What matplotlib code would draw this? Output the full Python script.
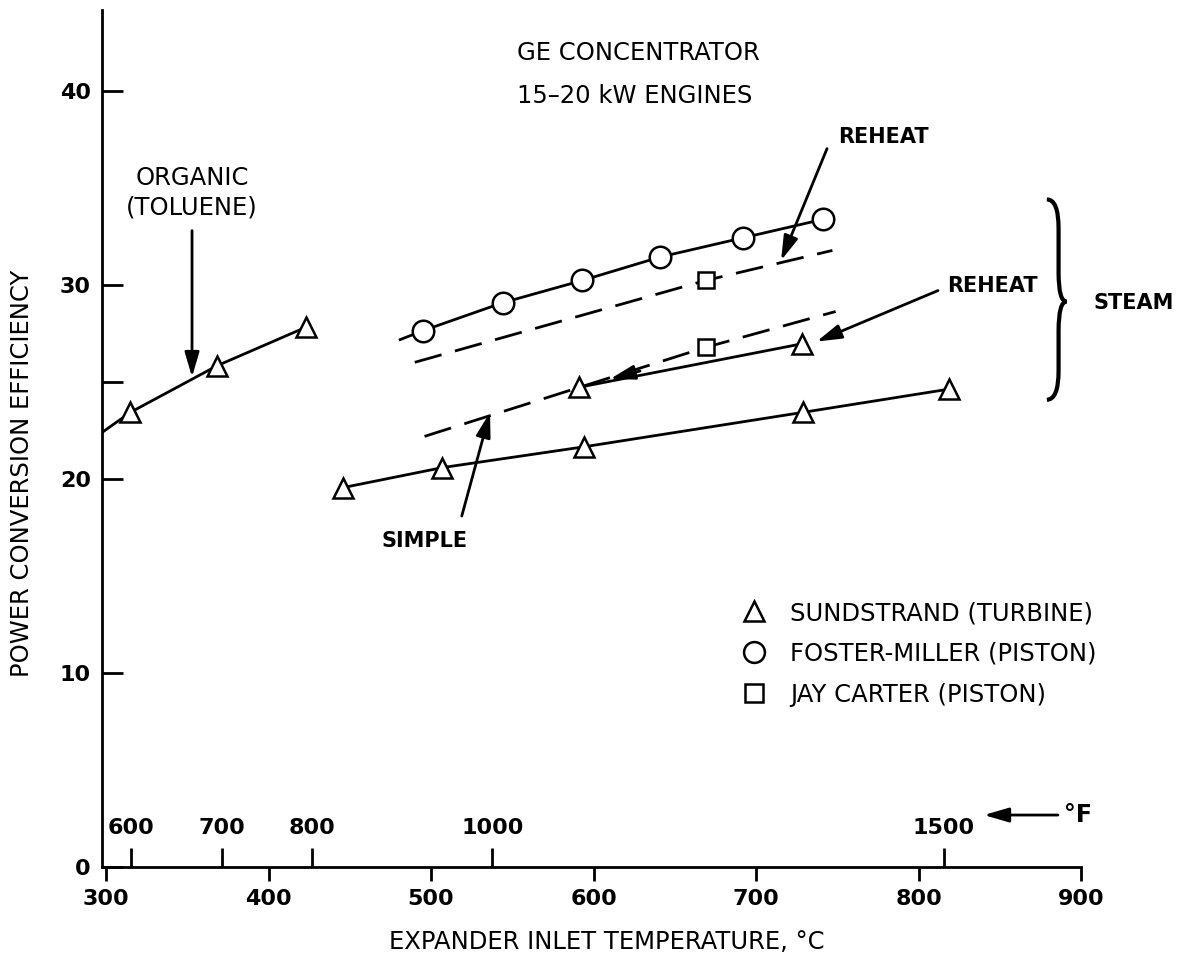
import matplotlib
matplotlib.use("Agg")
import matplotlib.pyplot as plt
from matplotlib.lines import Line2D
from matplotlib.path import Path
from matplotlib.patches import PathPatch

# expander inlet temperature (deg C) vs power conversion efficiency (%)
# organic (toluene) - sundstrand turbine
organic_t = [315, 368.5, 423]
organic_eff = [23.45, 25.86, 27.84]
organic_line_t = [297.5, 315, 368.5, 423]
organic_line_eff = [22.41, 23.45, 25.86, 27.84]

# steam - sundstrand turbine, simple and reheat
simple_t = [446, 507, 594, 729, 819]
simple_eff = [19.57, 20.60, 21.67, 23.45, 24.65]
reheat_t = [591, 728]
reheat_eff = [24.74, 26.98]

# steam - foster-miller piston
fm_t = [495, 544, 593, 641, 692, 741]
fm_eff = [27.66, 29.10, 30.25, 31.46, 32.45, 33.40]
fm_line_t = [481] + fm_t
fm_line_eff = [27.20] + fm_eff

# steam - jay carter piston (points and dashed curves)
jc_t = [669, 669]
jc_eff = [30.25, 26.80]
jc_reheat_t = [490, 669, 747]
jc_reheat_eff = [26.03, 30.25, 31.80]
jc_simple_t = [496, 669, 749]
jc_simple_eff = [22.21, 26.80, 28.65]

x_ticks = [300, 400, 500, 600, 700, 800, 900]
y_ticks = [0, 10, 20, 25, 30, 40]
y_tick_labels = ["0", "10", "20", "", "30", "40"]
f_ticks = [600, 700, 800, 1000, 1500]

legend_labels = ["SUNDSTRAND (TURBINE)", "FOSTER-MILLER (PISTON)", "JAY CARTER (PISTON)"]

plt.rcParams["font.family"] = ["DejaVu Sans"]
FS = 17.5     # plain text
FS_B = 15     # bold labels
FS_N = 16     # tick numbers

W, H = 1183, 971
fig = plt.figure(figsize=(W / 100, H / 100), dpi=100)
ax = fig.add_axes([102 / W, 104 / H, (1081 - 102) / W, (867 - 10) / H])
ax.set_xlim(297.5, 900)
ax.set_ylim(0, 44.2)

for s in ["top", "right"]:
    ax.spines[s].set_visible(False)
ax.spines["left"].set_linewidth(2)
ax.spines["bottom"].set_linewidth(2)

ax.set_xticks(x_ticks)
ax.set_yticks(y_ticks)
ax.set_yticklabels(y_tick_labels)
ax.tick_params(axis="x", direction="out", length=10, width=2, pad=6, labelsize=FS_N)
ax.tick_params(axis="y", direction="in", length=15, width=2, pad=8, labelsize=FS_N)
for lab in ax.get_xticklabels() + ax.get_yticklabels():
    lab.set_fontweight("bold")

# fahrenheit scale along the bottom axis
def c2f(c):
    return c * 9 / 5 + 32

def f2c(f):
    return (f - 32) * 5 / 9

sec = ax.secondary_xaxis(0, functions=(c2f, f2c))
sec.set_alignment("top")
sec.spines["top"].set_visible(False)
sec.set_xticks(f_ticks)
sec.tick_params(axis="x", direction="out", length=14, width=2, pad=7, labelsize=FS_N)
for lab in sec.get_xticklabels():
    lab.set_fontweight("bold")

line_kw = dict(color="black", lw=2, zorder=2)
mk_kw = dict(ls="none", mfc="white", mec="black", mew=1.8, zorder=3)

ax.plot(organic_line_t, organic_line_eff, **line_kw)
ax.plot(organic_t, organic_eff, marker="^", ms=14, **mk_kw)

ax.plot(simple_t, simple_eff, **line_kw)
ax.plot(simple_t, simple_eff, marker="^", ms=14, **mk_kw)
ax.plot(reheat_t, reheat_eff, **line_kw)
ax.plot(reheat_t, reheat_eff, marker="^", ms=14, **mk_kw)

ax.plot(fm_line_t, fm_line_eff, **line_kw)
ax.plot(fm_t, fm_eff, marker="o", ms=15.5, **mk_kw)

ax.plot(jc_reheat_t, jc_reheat_eff, color="black", lw=2, dashes=(10, 5), zorder=2)
ax.plot(jc_simple_t, jc_simple_eff, color="black", lw=2, dashes=(10, 5), zorder=2)
ax.plot(jc_t, jc_eff, marker="s", ms=12, **mk_kw)

# annotations
arrow = dict(arrowstyle="-|>,head_length=0.75,head_width=0.22", lw=2, color="black",
             mutation_scale=20, shrinkA=0, shrinkB=0)
ax.annotate("", xy=(352.9, 25.27), xytext=(352.9, 32.82), arrowprops=arrow)
ax.text(352.9, 35.55, "ORGANIC", ha="center", va="center", fontsize=FS)
ax.text(352.9, 34.0, "(TOLUENE)", ha="center", va="center", fontsize=FS)

ax.annotate("", xy=(715.4, 31.28), xytext=(743.7, 37.05), arrowprops=arrow)
ax.text(778.2, 37.67, "REHEAT", ha="center", va="center", fontsize=FS_B, fontweight="bold")

ax.annotate("", xy=(737.3, 27.10), xytext=(812, 29.73), arrowprops=arrow)
ax.text(845.6, 29.96, "REHEAT", ha="center", va="center", fontsize=FS_B, fontweight="bold")

ax.annotate("", xy=(536.3, 23.45), xytext=(518.9, 18.10), arrowprops=arrow)
ax.text(496.3, 16.81, "SIMPLE", ha="center", va="center", fontsize=FS_B, fontweight="bold")

ax.annotate("", xy=(610.2, 25.17), xytext=(628.6, 25.58), arrowprops=arrow)

ax.text(552.9, 41.96, "GE CONCENTRATOR", ha="left", va="center", fontsize=FS)
ax.text(552.9, 39.79, "15\u201320 kW ENGINES", ha="left", va="center", fontsize=FS)

# brace for the steam group
bx0, bx1, bx2 = 879, 886.2, 891.1
by_top, by_mid, by_bot = 34.43, 29.16, 24.10
verts = [(bx0, by_top), (bx1, by_top), (bx1, by_top - 1.5),
         (bx1, by_mid + 1.5),
         (bx1, by_mid), (bx2, by_mid),
         (bx1, by_mid), (bx1, by_mid - 1.5),
         (bx1, by_bot + 1.5),
         (bx1, by_bot), (bx0, by_bot)]
codes = [Path.MOVETO, Path.CURVE3, Path.CURVE3,
         Path.LINETO,
         Path.CURVE3, Path.CURVE3,
         Path.CURVE3, Path.CURVE3,
         Path.LINETO,
         Path.CURVE3, Path.CURVE3]
ax.add_patch(PathPatch(Path(verts, codes), fill=False, lw=3, color="black", clip_on=False))
ax.text(907.4, 29.11, "STEAM", ha="left", va="center", fontsize=FS_B, fontweight="bold", clip_on=False)

# deg F arrow
ax.annotate("", xy=(840.3, 2.68), xytext=(885.8, 2.68), arrowprops=arrow, annotation_clip=False)
ax.text(889.5, 2.68, "\u00b0F", ha="left", va="center", fontsize=FS_N + 1, fontweight="bold", clip_on=False)

# legend
handles = [Line2D([], [], marker=m, ms=s, ls="none", mfc="white", mec="black", mew=1.8)
           for m, s in [("^", 15), ("o", 15), ("s", 13)]]
ax.legend(handles, legend_labels, loc="upper left", bbox_to_anchor=((742 - 102) / 979, (867 - 601) / 857),
          frameon=False, fontsize=FS, handlelength=1.0, handletextpad=0.99, labelspacing=0.69,
          borderpad=0, borderaxespad=0, numpoints=1)

fig.text(22 / W, 1 - 473 / H, "POWER CONVERSION EFFICIENCY", rotation=90, ha="center", va="center", fontsize=FS)
fig.text(607 / W, 1 - 942 / H, "EXPANDER INLET TEMPERATURE, \u00b0C", ha="center", va="center", fontsize=FS)

fig.savefig("out.png", dpi=100)
